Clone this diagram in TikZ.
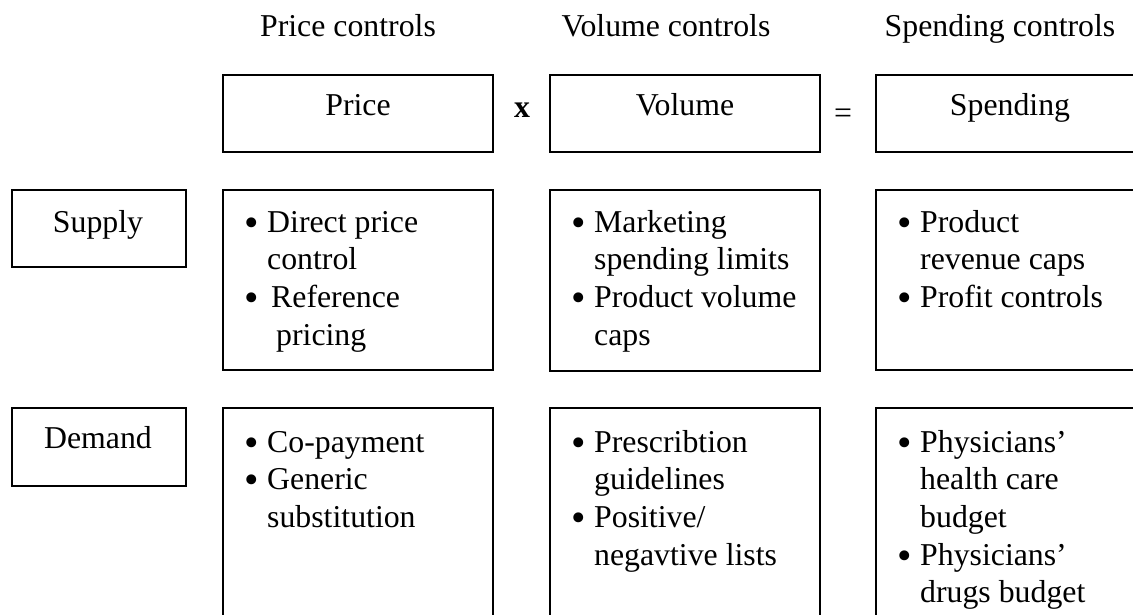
\documentclass[tikz,border=0pt]{standalone}
\usepackage{graphicx}
\usepackage{fontspec}
\setmainfont{Liberation Serif}
\newcommand\bul{\makebox[23pt][l]{\raisebox{-4pt}{\scalebox{1.3}{\textbullet}}}}
\newcommand\ind{\hspace*{23pt}}
\tikzset{
  box/.style={draw, line width=1.8pt, inner sep=0pt},
  txt/.style={font=\fontsize{31.8}{37.7}\selectfont, inner sep=0pt, anchor=base},
  list/.style={font=\fontsize{31.8}{37.7}\selectfont, inner sep=0pt, anchor=base west, align=left},
}
\begin{document}
\begin{tikzpicture}[x=1pt,y=-1pt]
\clip (0,0) rectangle (1133,615);
\fill[white] (0,0) rectangle (1133,615);
% headings
\node[txt] (hp) at (348,37) {Price controls};
\node[txt] (hv) at (666,37) {Volume controls};
\node[txt] (hs) at (1000,37) {Spending controls};
% top boxes
\node[box, minimum width=270pt, minimum height=77pt] (price) at (358,113.5) {};
\node[box, minimum width=270pt, minimum height=77pt] (volume) at (685,113.5) {};
\node[box, minimum width=300pt, minimum height=77pt] (spending) at (1026,113.5) {};
\node[txt] (tprice) at (358,116) {Price};
\node[txt] (tvolume) at (685,116) {Volume};
\node[txt] (tspending) at (1010,116) {Spending};
\node[txt] (times) at (522,118) {\bfseries x};
\node[txt] (equals) at (843,124) {=};
% row labels
\node[box, minimum width=174pt, minimum height=77pt] (supply) at (99,228.5) {};
\node[box, minimum width=174pt, minimum height=78pt] (demand) at (99,447) {};
\node[txt] (tsupply) at (98,232) {Supply};
\node[txt] (tdemand) at (98,448) {Demand};
% row 2 boxes
\node[box, minimum width=270pt, minimum height=180pt] (sp) at (358,280) {};
\node[box, minimum width=270pt, minimum height=181pt] (sv) at (685,280.5) {};
\node[box, minimum width=300pt, minimum height=180pt] (ss) at (1026,280) {};
% row 3 boxes
\node[box, minimum width=270pt, minimum height=240pt] (dp) at (358,528) {};
\node[box, minimum width=270pt, minimum height=240pt] (dv) at (685,528) {};
\node[box, minimum width=300pt, minimum height=240pt] (ds) at (1026,528) {};
% row 2 lists (anchor = baseline of last line)
\node[list] (lsp) at (244,345.1) {\bul Direct price\\ \ind control\\ \bul\hspace{4pt}Reference\\ \ind\hspace{9pt}pricing};
\node[list] (lsv) at (571,345.1) {\bul Marketing\\ \ind spending limits\\ \bul Product volume\\ \ind caps};
\node[list] (lss) at (897,307.4) {\bul Product\\ \ind revenue caps\\ \bul Profit controls};
% row 3 lists
\node[list] (ldp) at (244,527.4) {\bul Co-payment\\ \bul Generic\\ \ind substitution};
\node[list] (ldv) at (571,565.1) {\bul Prescribtion\\ \ind guidelines\\ \bul Positive/\\ \ind negavtive lists};
\node[list] (lds) at (897,602.8) {\bul Physicians’\\ \ind health care\\ \ind budget\\ \bul Physicians’\\ \ind drugs budget};
\end{tikzpicture}
\end{document}
